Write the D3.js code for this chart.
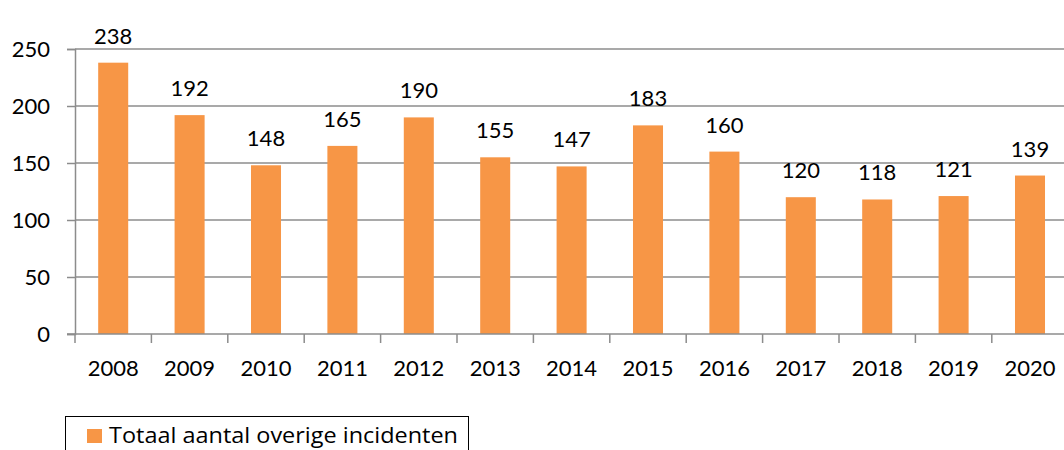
<!DOCTYPE html>
<html>
<head>
<meta charset="utf-8">
<script src="https://cdn.jsdelivr.net/npm/d3@7"></script>
<style>
  body { margin: 0; background: #fff; }
  text { font-family: Lato, "Open Sans", sans-serif; fill: #000; }
</style>
</head>
<body>
<div id="chart"></div>
<script>
// Data
var years = ["2008", "2009", "2010", "2011", "2012", "2013", "2014", "2015", "2016", "2017", "2018", "2019", "2020"];
var incidents = [238, 192, 148, 165, 190, 155, 147, 183, 160, 120, 118, 121, 139];
var yTicks = [0, 50, 100, 150, 200, 250];
var seriesName = "Totaal aantal overige incidenten";

var svgWidth = 1064;
var svgHeight = 450;

// plot area
var margin = { top: 49, left: 75 };
var plotHeight = 285;
var bandWidth = 76.4;

var svg = d3.select("#chart")
    .append("svg")
    .attr("width", svgWidth)
    .attr("height", svgHeight);

var xScale = d3.scaleBand()
    .domain(years)
    .range([margin.left, margin.left + bandWidth * years.length])
    .paddingInner(0.607)
    .paddingOuter(0.3035);

var yScale = d3.scaleLinear()
    .domain([0, 250])
    .range([margin.top + plotHeight, margin.top]);

// gridlines
svg.append("g")
    .selectAll("line")
    .data(yTicks.filter(d => d > 0))
    .enter()
    .append("line")
    .attr("x1", margin.left)
    .attr("x2", svgWidth)
    .attr("y1", d => yScale(d))
    .attr("y2", d => yScale(d))
    .attr("stroke", "#8c8c8c")
    .attr("stroke-width", 1.5);

// y axis
var leftAxis = d3.axisLeft(yScale).tickValues(yTicks).tickSize(8).tickPadding(17);
var yAxis = svg.append("g")
    .attr("transform", "translate(" + margin.left + ",0)")
    .call(leftAxis);
yAxis.select(".domain").attr("stroke", "#8c8c8c").attr("stroke-width", 1.5);
yAxis.selectAll(".tick line").attr("stroke", "#8c8c8c").attr("stroke-width", 1.5);
yAxis.selectAll("text").style("font-size", "22px").attr("fill", "#000");

// bars
svg.append("g")
    .selectAll("rect")
    .data(incidents)
    .enter()
    .append("rect")
    .attr("x", (d, i) => xScale(years[i]))
    .attr("y", d => yScale(d))
    .attr("width", xScale.bandwidth())
    .attr("height", d => yScale(0) - yScale(d))
    .attr("fill", "#f79646");

// x axis with ticks between categories
var xAxisG = svg.append("g");
xAxisG.append("line")
    .attr("x1", margin.left - 8)
    .attr("x2", svgWidth)
    .attr("y1", yScale(0))
    .attr("y2", yScale(0))
    .attr("stroke", "#8c8c8c")
    .attr("stroke-width", 1.5);
xAxisG.selectAll(".xtick")
    .data(years)
    .enter()
    .append("line")
    .attr("class", "xtick")
    .attr("x1", (d, i) => margin.left + bandWidth * i)
    .attr("x2", (d, i) => margin.left + bandWidth * i)
    .attr("y1", yScale(0))
    .attr("y2", yScale(0) + 9)
    .attr("stroke", "#8c8c8c")
    .attr("stroke-width", 1.5);
xAxisG.selectAll(".xlabel")
    .data(years)
    .enter()
    .append("text")
    .attr("class", "xlabel")
    .attr("x", d => xScale(d) + xScale.bandwidth() / 2)
    .attr("y", 376)
    .attr("text-anchor", "middle")
    .style("font-size", "22px")
    .text(d => d);

// value labels
svg.append("g")
    .selectAll("text")
    .data(incidents)
    .enter()
    .append("text")
    .attr("x", (d, i) => xScale(years[i]) + xScale.bandwidth() / 2)
    .attr("y", d => yScale(d) - 19)
    .attr("text-anchor", "middle")
    .style("font-size", "22px")
    .text(d => d);

// legend
var legend = svg.append("g");
legend.append("rect")
    .attr("x", 65.5)
    .attr("y", 416.5)
    .attr("width", 403)
    .attr("height", 40)
    .attr("fill", "none")
    .attr("stroke", "#000")
    .attr("stroke-width", 1);
legend.append("rect")
    .attr("x", 87)
    .attr("y", 429)
    .attr("width", 15)
    .attr("height", 14)
    .attr("fill", "#f79646");
legend.append("text")
    .attr("x", 109)
    .attr("y", 443)
    .style("font-size", "22px")
    .style("font-family", "'Open Sans', sans-serif")
    .attr("textLength", 349)
    .attr("lengthAdjust", "spacingAndGlyphs")
    .text(seriesName);
</script>
</body>
</html>
